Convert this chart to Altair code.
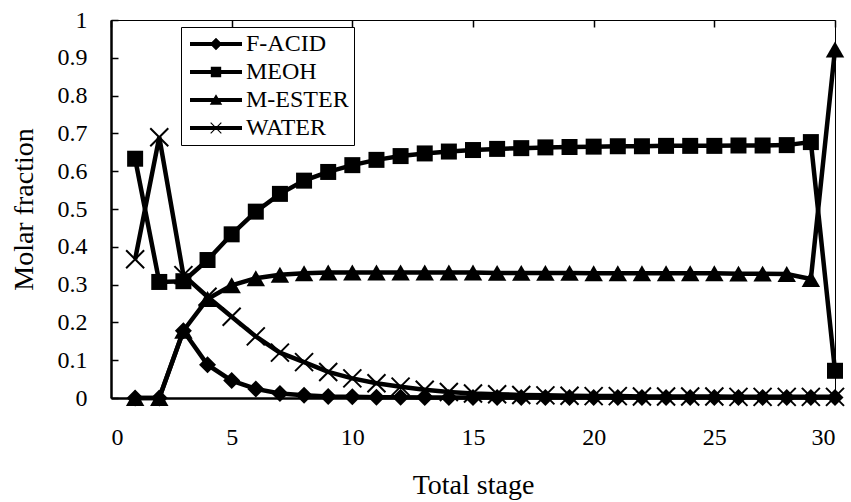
import altair as alt
import pandas as pd

stages = list(range(1, 31))
series_names = ["F-ACID", "MEOH", "M-ESTER", "WATER"]

f_acid = [0.0, 0.0, 0.178, 0.088, 0.046, 0.024, 0.012, 0.007, 0.004, 0.003,
          0.002, 0.002, 0.001, 0.001, 0.001, 0.001, 0.001, 0.001, 0.001, 0.001,
          0.001, 0.001, 0.001, 0.001, 0.001, 0.001, 0.001, 0.001, 0.001, 0.001]
meoh = [0.633, 0.307, 0.309, 0.365, 0.433, 0.493, 0.540, 0.575, 0.598, 0.616,
        0.630, 0.640, 0.647, 0.652, 0.656, 0.659, 0.661, 0.663, 0.664, 0.665,
        0.666, 0.666, 0.667, 0.667, 0.667, 0.668, 0.668, 0.669, 0.677, 0.072]
m_ester = [0.0, 0.0, 0.178, 0.262, 0.298, 0.317, 0.326, 0.330, 0.332, 0.332,
           0.332, 0.332, 0.332, 0.332, 0.332, 0.331, 0.331, 0.331, 0.331, 0.330,
           0.330, 0.330, 0.330, 0.330, 0.330, 0.329, 0.329, 0.328, 0.315, 0.922]
water = [0.367, 0.690, 0.325, 0.268, 0.215, 0.163, 0.120, 0.095, 0.069, 0.052,
         0.039, 0.030, 0.022, 0.016, 0.012, 0.010, 0.008, 0.007, 0.006, 0.005,
         0.005, 0.004, 0.004, 0.004, 0.004, 0.003, 0.003, 0.003, 0.003, 0.003]

x_ticks = [0, 5, 10, 15, 20, 25, 30]
y_ticks = [0, 0.1, 0.2, 0.3, 0.4, 0.5, 0.6, 0.7, 0.8, 0.9, 1]

rows = []
for name, vals in zip(series_names, [f_acid, meoh, m_ester, water]):
    for s, v in zip(stages, vals):
        rows.append({"stage": s, "series": name, "value": v})
df = pd.DataFrame(rows)

FONT = "Liberation Serif"
X_PATH = "M-1,-1L1,1M-1,1L1,-1"

marker_style = {
    "F-ACID": dict(shape="diamond", filled=True, size=289),
    "MEOH": dict(shape="square", filled=True, size=256),
    "M-ESTER": dict(shape="triangle-up", filled=True, size=340),
    "WATER": dict(shape=X_PATH, filled=False, size=324, strokeWidth=2),
}

LINE = "M-1,-0.075H1V0.075H-1Z"
legend_paths = [
    LINE + "M0,-0.24L0.24,0L0,0.24L-0.24,0Z",
    LINE + "M-0.2,-0.2H0.2V0.2H-0.2Z",
    LINE + "M0,-0.22L0.24,0.18H-0.24Z",
    LINE + "M-0.22,-0.19L-0.19,-0.22L0.22,0.19L0.19,0.22Z"
         + "M0.19,-0.22L0.22,-0.19L-0.19,0.22L-0.22,0.19Z",
]

x_enc = alt.X(
    "stage:Q",
    scale=alt.Scale(domain=[0, 30], nice=False, zero=False),
    axis=alt.Axis(title="Total stage", values=x_ticks, labelPadding=27,
                  titlePadding=22, labelFont=FONT, titleFont=FONT),
)
y_enc = alt.Y(
    "value:Q",
    scale=alt.Scale(domain=[0, 1], nice=False),
    axis=alt.Axis(title="Molar fraction", values=y_ticks, format=".1~f",
                  labelPadding=24, titlePadding=19, labelFont=FONT,
                  titleFont=FONT),
)

layers = []
for name in series_names:
    base = alt.Chart(df).transform_filter(alt.datum.series == name)
    layers.append(
        base.mark_line(color="black", strokeWidth=4.5).encode(x=x_enc, y=y_enc)
    )
    st = marker_style[name]
    pkw = dict(shape=st["shape"], filled=st["filled"], size=st["size"],
               color="black", opacity=1)
    if "strokeWidth" in st:
        pkw["strokeWidth"] = st["strokeWidth"]
    layers.append(base.mark_point(**pkw).encode(x=x_enc, y=y_enc))

legend_layer = (
    alt.Chart(df)
    .transform_filter("false")
    .mark_point(filled=True, color="black", opacity=1)
    .encode(
        x=x_enc,
        y=y_enc,
        shape=alt.Shape(
            "series:N",
            scale=alt.Scale(domain=series_names, range=legend_paths),
            legend=alt.Legend(
                title=None,
                orient="none",
                legendX=70,
                legendY=7,
                strokeColor="black",
                fillColor="white",
                padding=5,
                symbolSize=2704,
                clipHeight=24,
                symbolOffset=4,
                labelOffset=4,
                symbolFillColor="black",
                symbolStrokeWidth=0,
                symbolOpacity=1,
                labelFont=FONT,
                labelFontSize=24,
                labelColor="black",
                rowPadding=4,
                labelExpr="datum.label + '\u2002'",
            ),
        ),
    )
)
layers.append(legend_layer)

chart = (
    alt.layer(*layers)
    .properties(
        width=724,
        height=378,
        autosize=alt.AutoSizeParams(type="none"),
        padding={"left": 111, "top": 20, "right": 16, "bottom": 104},
        background="white",
    )
    .configure(
        font=FONT,
        style={"guide-label": {"font": FONT}, "guide-title": {"font": FONT}},
    )
    .configure_view(stroke="black", strokeWidth=1)
    .configure_axis(
        domainColor="black",
        domainWidth=2.5,
        ticks=False,
        grid=True,
        gridColor="black",
        gridDash=[7, 3000],
        gridWidth=1.5,
        labelFont=FONT,
        labelFontSize=24,
        labelColor="black",
        titleFont=FONT,
        titleFontSize=28,
        titleFontWeight="normal",
        titleColor="black",
    )
)

chart.save("out.html", embed_options={"renderer": "svg", "actions": False})
